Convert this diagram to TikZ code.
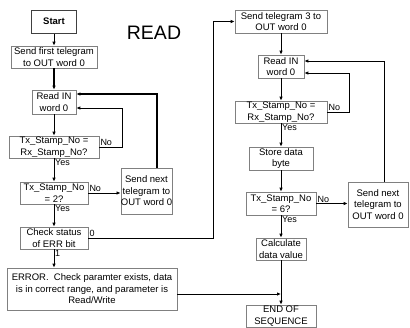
\documentclass[tikz,border=0pt]{standalone}
\usepackage{fontspec}
\setmainfont{Liberation Sans}
\usetikzlibrary{arrows.meta}

\begin{document}
\begin{tikzpicture}[x=1pt,y=-1pt,
        box/.style={draw=black!50,line width=0.6pt,fill=white,align=center,
            inner sep=0pt,font=\fontsize{9.5}{11.5}\selectfont},
        flow/.style={line width=0.8pt,-{Latex[length=4pt,width=3.5pt]}},
        thickflow/.style={flow,line width=1.6pt},
        tag/.style={inner sep=1pt,font=\fontsize{9}{10}\selectfont}]
        \useasboundingbox (0,0) rectangle (410,327);

        % read, left column
        \node[box,draw=black!75,line width=1pt,minimum width=45pt,minimum height=23pt,
            font=\fontsize{9.5}{11.5}\selectfont\bfseries] (start) at (54,21.5) {Start};
        \node[box,minimum width=86pt,minimum height=22pt] (first) at (54,57) {Send first telegram\\to OUT word 0};
        \node[box,minimum width=44pt,minimum height=24pt] (read1) at (54,102) {Read IN\\word 0};
        \node[box,minimum width=90pt,minimum height=22pt] (cmp1) at (54,147) {Tx\_Stamp\_No =\\Rx\_Stamp\_No?};
        \node[box,minimum width=68pt,minimum height=22pt] (cmp2) at (54,193) {Tx\_Stamp\_No\\= 2?};
        \node[box,minimum width=68pt,minimum height=22pt] (check) at (54,238) {Check status\\of ERR bit};
        \node[box,minimum width=170pt,minimum height=42pt] (error) at (92,289)
            {ERROR.\ \ Check paramter exists, data\\is in correct range, and parameter is\\Read/Write};
        \node[box,minimum width=51pt,minimum height=46pt] (next1) at (146.5,191) {Send next\\telegram to\\OUT word 0};
        \node[font=\fontsize{19.5}{20}\selectfont,inner sep=0pt] (title) at (154,32.5) {READ};

        % read, right column
        \node[box,minimum width=92pt,minimum height=23pt] (tel3) at (281,21.5) {Send telegram 3 to\\OUT word 0};
        \node[box,minimum width=46pt,minimum height=23pt] (read2) at (281,66.5) {Read IN\\word 0};
        \node[box,minimum width=92pt,minimum height=22pt] (cmp3) at (281,112) {Tx\_Stamp\_No =\\Rx\_Stamp\_No?};
        \node[box,minimum width=64pt,minimum height=23pt] (store) at (281,158.5) {Store data\\byte};
        \node[box,minimum width=70pt,minimum height=23pt] (cmp4) at (281,203.5) {Tx\_Stamp\_No\\= 6?};
        \node[box,minimum width=60pt,minimum height=45pt] (next2) at (378,204.5) {Send next\\telegram to\\OUT word 0};
        \node[box,minimum width=50pt,minimum height=22pt] (calc) at (281,249) {Calculate\\data value};
        \node[box,minimum width=70pt,minimum height=22pt] (end) at (281,316) {END OF\\SEQUENCE};

        % straight flow
        \draw[flow] (start) -- (first);
        \draw[thickflow] (first) -- (read1);
        \foreach \a/\b in {read1/cmp1,cmp1/cmp2,cmp2/check,
                tel3/read2,read2/cmp3,cmp3/store,store/cmp4,cmp4/calc,calc/end} {
          \draw[flow] (\a) -- (\b);
        }
        \draw[flow] (check.south) -- (check.south |- error.north);

        % loops back to read
        \draw[flow] (cmp1.east) -- ++(23,0) |- ([yshift=-6pt]read1.east);
        \draw[thickflow] ([xshift=10.5pt]next1.north) |- ([yshift=8pt]read1.east);
        \draw[flow] (cmp3.east) -- ++(22,0) |- ([yshift=-6.5pt]read2.east);
        \draw[flow] ([xshift=6pt]next2.north) |- ([yshift=5.5pt]read2.east);

        % branches
        \draw[flow] (cmp2.east) -- (cmp2.east -| next1.west);
        \draw[flow] (cmp4.east) -- (cmp4.east -| next2.west);
        \draw[flow] (check.east) -- ++(125,0) |- (tel3.west);
        \draw[flow] ([yshift=-5pt]error.east) -- ([yshift=-5pt]error.east -| end.north);

        % yes/no tags
        \node[tag,anchor=south west] (no1) at (cmp1.east) {No};
        \node[tag,anchor=north west] (yes1) at (cmp1.south) {Yes};
        \node[tag,anchor=south west] (no2) at (cmp2.east) {No};
        \node[tag,anchor=north west] (yes2) at (cmp2.south) {Yes};
        \node[tag,anchor=south west] (zero) at (check.east) {0};
        \node[tag,anchor=north west] (one) at (check.south) {1};
        \node[tag,anchor=south west] (no3) at (cmp3.east) {No};
        \node[tag,anchor=north west] (yes3) at (cmp3.south) {Yes};
        \node[tag,anchor=south west] (no4) at (cmp4.east) {No};
        \node[tag,anchor=north west] (yes4) at (cmp4.south) {Yes};
    \end{tikzpicture}
\end{document}
